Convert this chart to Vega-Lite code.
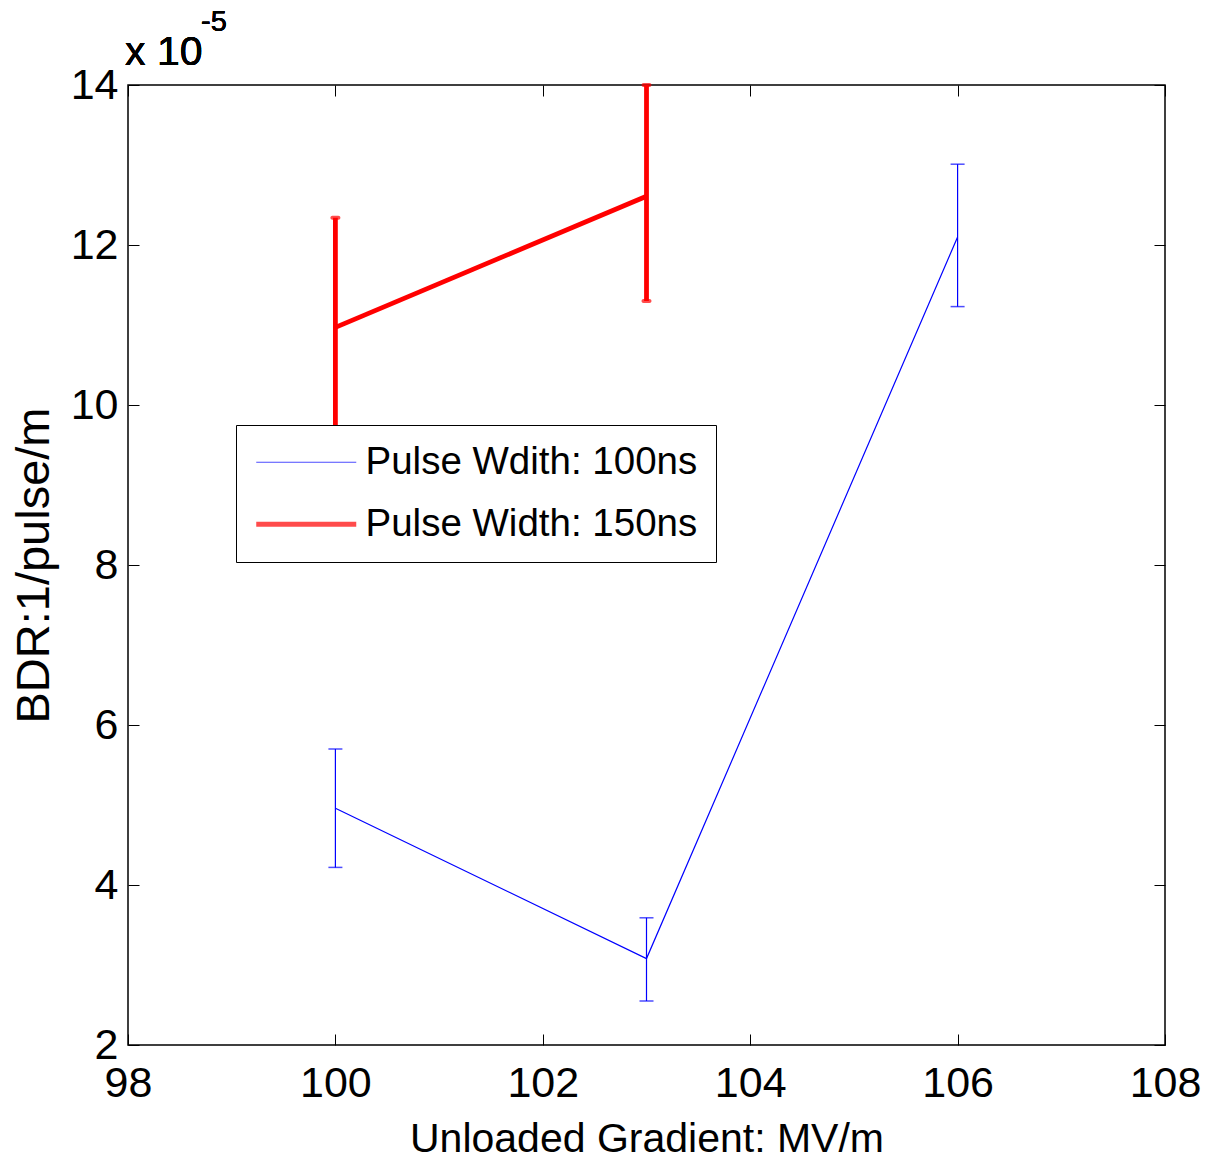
{
  "$schema": "https://vega.github.io/schema/vega-lite/v6.json",
  "width": 1037,
  "height": 960,
  "autosize": "none",
  "padding": {"left": 128, "top": 85, "right": 44, "bottom": 121},
  "background": "white",
  "config": {
    "view": {"stroke": "#000", "strokeWidth": 1.5},
    "font": "Liberation Sans",
    "axis": {
      "domain": false,
      "grid": false,
      "tickColor": "#000",
      "tickWidth": 1,
      "tickSize": -11,
      "labelColor": "#000",
      "labelFont": "Liberation Sans",
      "labelFontSize": 43,
      "titleColor": "#000",
      "titleFont": "Liberation Sans",
      "titleFontSize": 41,
      "titleFontWeight": "normal"
    }
  },
  "data": {
    "values": [
      {"series": "Pulse Wdith: 100ns", "x": 100, "y": 4.96, "lo": 4.22, "hi": 5.70},
      {"series": "Pulse Wdith: 100ns", "x": 103, "y": 3.08, "lo": 2.55, "hi": 3.59},
      {"series": "Pulse Wdith: 100ns", "x": 106, "y": 12.10, "lo": 11.23, "hi": 13.01},
      {"series": "Pulse Width: 150ns", "x": 100, "y": 10.97, "lo": 9.60, "hi": 12.34},
      {"series": "Pulse Width: 150ns", "x": 103, "y": 12.61, "lo": 11.30, "hi": 14.0}
    ]
  },
  "layer": [
    {
      "mark": {"type": "line", "clip": false},
      "encoding": {
        "x": {"field": "x", "type": "quantitative",
          "scale": {"domain": [98, 108], "nice": false, "zero": false},
          "axis": {"orient": "bottom", "values": [98, 100, 102, 104, 106, 108], "labelPadding": 28, "labelFlush": false, "labelOverlap": false,
            "title": "Unloaded Gradient: MV/m", "titlePadding": 14}},
        "y": {"field": "y", "type": "quantitative",
          "scale": {"domain": [2, 14], "nice": false, "zero": false},
          "axis": {"orient": "left", "values": [2, 4, 6, 8, 10, 12, 14], "labelPadding": 21, "labelFlush": false, "labelOverlap": false,
            "title": "BDR:1/pulse/m", "titleFontSize": 47, "titlePadding": 12}},
        "color": {"field": "series", "type": "nominal",
          "scale": {"domain": ["Pulse Wdith: 100ns", "Pulse Width: 150ns"], "range": ["#0000ff", "#ff0000"]},
          "legend": {"orient": "none", "legendX": 108, "legendY": 340, "title": null, "symbolType": "M-5,0H5", "symbolSize": 400, "symbolOffset": 33,
            "labelFontSize": 38.5, "labelFont": "Liberation Sans", "labelColor": "#000", "labelOffset": 40, "rowPadding": 23,
            "padding": 18, "strokeColor": "#000", "fillColor": "#fff", "cornerRadius": 0, "labelLimit": 600}},
        "strokeWidth": {"field": "series", "type": "nominal",
          "scale": {"domain": ["Pulse Wdith: 100ns", "Pulse Width: 150ns"], "range": [1.2, 4.8]},
          "legend": {"orient": "none", "legendX": 108, "legendY": 340, "title": null, "symbolType": "M-5,0H5", "symbolSize": 400, "symbolOffset": 33,
            "labelFontSize": 38.5, "labelFont": "Liberation Sans", "labelColor": "#000", "labelOffset": 40, "rowPadding": 23,
            "padding": 18, "strokeColor": "#000", "fillColor": "#fff", "cornerRadius": 0, "labelLimit": 600}}
      }
    },
    {
      "mark": {"type": "rule", "clip": false},
      "encoding": {
        "x": {"field": "x", "type": "quantitative",
          "axis": {"orient": "top", "values": [98, 100, 102, 104, 106, 108], "labels": false, "title": null}},
        "y": {"field": "lo", "type": "quantitative",
          "axis": {"orient": "right", "values": [2, 4, 6, 8, 10, 12, 14], "labels": false, "title": null}},
        "y2": {"field": "hi"},
        "color": {"field": "series", "type": "nominal"},
        "strokeWidth": {"field": "series", "type": "nominal"}
      }
    },
    {
      "transform": [{"filter": "datum.series === 'Pulse Wdith: 100ns'"}],
      "layer": [
        {"mark": {"type": "tick", "orient": "horizontal", "size": 14, "thickness": 1.5, "clip": false},
          "encoding": {"x": {"field": "x", "type": "quantitative", "axis": null}, "y": {"field": "lo", "type": "quantitative", "axis": null},
            "color": {"field": "series", "type": "nominal"}}},
        {"mark": {"type": "tick", "orient": "horizontal", "size": 14, "thickness": 1.5, "clip": false},
          "encoding": {"x": {"field": "x", "type": "quantitative", "axis": null}, "y": {"field": "hi", "type": "quantitative", "axis": null},
            "color": {"field": "series", "type": "nominal"}}}
      ]
    },
    {
      "transform": [{"filter": "datum.series === 'Pulse Width: 150ns'"}],
      "layer": [
        {"mark": {"type": "tick", "orient": "horizontal", "size": 10, "thickness": 4, "cornerRadius": 2, "clip": false},
          "encoding": {"x": {"field": "x", "type": "quantitative", "axis": null}, "y": {"field": "lo", "type": "quantitative", "axis": null},
            "color": {"field": "series", "type": "nominal"}}},
        {"mark": {"type": "tick", "orient": "horizontal", "size": 10, "thickness": 4, "cornerRadius": 2, "clip": false},
          "encoding": {"x": {"field": "x", "type": "quantitative", "axis": null}, "y": {"field": "hi", "type": "quantitative", "axis": null},
            "color": {"field": "series", "type": "nominal"}}}
      ]
    },
    {
      "mark": {"type": "text", "align": "left", "baseline": "alphabetic", "fontSize": 41, "font": "Liberation Sans", "color": "#000", "dx": -3, "dy": -20},
      "encoding": {"x": {"datum": 98, "type": "quantitative", "axis": null}, "y": {"datum": 14, "type": "quantitative", "axis": null}, "text": {"value": "x 10"}}
    },
    {
      "mark": {"type": "text", "align": "left", "baseline": "alphabetic", "fontSize": 29, "font": "Liberation Sans", "color": "#000", "dx": 73, "dy": -54},
      "encoding": {"x": {"datum": 98, "type": "quantitative", "axis": null}, "y": {"datum": 14, "type": "quantitative", "axis": null}, "text": {"value": "-5"}}
    }
  ],
  "resolve": {"axis": {"x": "independent", "y": "independent"}}
}
